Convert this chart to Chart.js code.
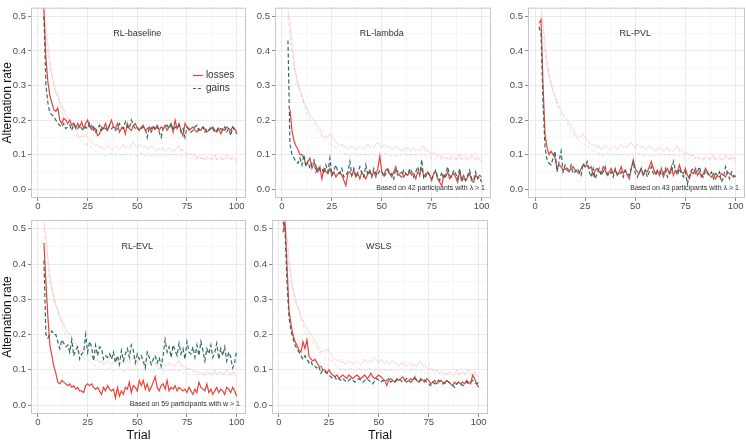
<!DOCTYPE html>
<html>
<head>
<meta charset="utf-8">
<script src="https://cdn.jsdelivr.net/npm/chart.js@4.4.1/dist/chart.umd.min.js"></script>
<style>
  body { margin: 0; background: #fff; }
  #wrap { position: relative; width: 746px; height: 440px; overflow: hidden; background: #fff; }
  #wrap canvas { position: absolute; }
</style>
</head>
<body>
<div id="wrap">
  <canvas id="p1"></canvas>
  <canvas id="p2"></canvas>
  <canvas id="p3"></canvas>
  <canvas id="p4"></canvas>
  <canvas id="p5"></canvas>
</div>
<script>
// ---- data (alternation rate per trial) ----
// faint reference lines (participants), identical in every panel
const humanStart = 3;
const humanLosses = [
  0.52, 0.48, 0.42, 0.37, 0.33, 0.30, 0.28, 0.27, 0.25, 0.24,
  0.23, 0.215, 0.205, 0.20, 0.195, 0.18, 0.175, 0.16, 0.15, 0.155,
  0.15, 0.16, 0.15, 0.145, 0.135, 0.13, 0.125, 0.13, 0.12, 0.125,
  0.115, 0.12, 0.125, 0.12, 0.115, 0.12, 0.125, 0.12, 0.115, 0.12,
  0.13, 0.12, 0.125, 0.12, 0.13, 0.135, 0.125, 0.12, 0.13, 0.125,
  0.12, 0.125, 0.115, 0.12, 0.125, 0.12, 0.115, 0.11, 0.12, 0.115,
  0.12, 0.11, 0.115, 0.12, 0.11, 0.115, 0.11, 0.12, 0.125, 0.11,
  0.115, 0.105, 0.1, 0.105, 0.1, 0.095, 0.1, 0.09, 0.095, 0.09,
  0.09, 0.085, 0.095, 0.09, 0.085, 0.09, 0.1, 0.085, 0.09, 0.095,
  0.085, 0.09, 0.1, 0.09, 0.085, 0.095, 0.085, 0.08
];
const humanGains = [
  0.5, 0.44, 0.39, 0.35, 0.33, 0.31, 0.29, 0.27, 0.25, 0.23,
  0.21, 0.2, 0.195, 0.19, 0.18, 0.17, 0.16, 0.15, 0.145, 0.14,
  0.135, 0.13, 0.13, 0.125, 0.12, 0.115, 0.11, 0.105, 0.1, 0.105,
  0.1, 0.095, 0.1, 0.105, 0.1, 0.095, 0.1, 0.105, 0.1, 0.1,
  0.095, 0.1, 0.105, 0.1, 0.095, 0.1, 0.1, 0.095, 0.1, 0.105,
  0.1, 0.095, 0.1, 0.1, 0.095, 0.1, 0.095, 0.1, 0.105, 0.1,
  0.095, 0.1, 0.095, 0.1, 0.1, 0.095, 0.1, 0.095, 0.1, 0.095,
  0.09, 0.095, 0.09, 0.085, 0.09, 0.09, 0.085, 0.09, 0.085, 0.09,
  0.085, 0.09, 0.085, 0.09, 0.09, 0.085, 0.09, 0.085, 0.09, 0.085,
  0.09, 0.085, 0.09, 0.085, 0.09, 0.085, 0.09, 0.09
];

// RL-baseline
const baselineLossStart = 2;
const baselineLosses = [
  0.6, 0.52, 0.38, 0.31, 0.27, 0.25, 0.23, 0.225, 0.235, 0.2,
  0.19, 0.205, 0.2, 0.19, 0.2, 0.185, 0.19, 0.175, 0.19, 0.18,
  0.195, 0.175, 0.19, 0.2, 0.18, 0.185, 0.17, 0.175, 0.155, 0.16,
  0.18, 0.175, 0.19, 0.17, 0.185, 0.2, 0.18, 0.175, 0.19, 0.165,
  0.175, 0.18, 0.16, 0.19, 0.175, 0.17, 0.185, 0.19, 0.175, 0.17,
  0.18, 0.185, 0.17, 0.175, 0.18, 0.165, 0.18, 0.175, 0.185, 0.17,
  0.18, 0.175, 0.185, 0.17, 0.18, 0.19, 0.165, 0.2, 0.175, 0.19,
  0.17, 0.155, 0.19, 0.18, 0.17, 0.175, 0.18, 0.17, 0.165, 0.175,
  0.17, 0.18, 0.175, 0.165, 0.17, 0.175, 0.18, 0.17, 0.165, 0.175,
  0.16, 0.175, 0.17, 0.18, 0.175, 0.17, 0.18, 0.175, 0.165
];
const baselineGainStart = 3;
const baselineGains = [
  0.5, 0.3, 0.25, 0.22, 0.215, 0.21, 0.2, 0.19, 0.185, 0.18,
  0.19, 0.175, 0.18, 0.185, 0.17, 0.19, 0.18, 0.175, 0.185, 0.175,
  0.17, 0.18, 0.175, 0.19, 0.17, 0.18, 0.165, 0.175, 0.185, 0.17,
  0.18, 0.175, 0.17, 0.185, 0.175, 0.18, 0.17, 0.175, 0.19, 0.18,
  0.175, 0.195, 0.18, 0.175, 0.2, 0.185, 0.175, 0.18, 0.17, 0.175,
  0.18, 0.175, 0.15, 0.18, 0.175, 0.185, 0.17, 0.18, 0.165, 0.15,
  0.175, 0.18, 0.185, 0.175, 0.19, 0.17, 0.18, 0.175, 0.185, 0.165,
  0.175, 0.15, 0.18, 0.175, 0.165, 0.17, 0.18, 0.185, 0.17, 0.175,
  0.18, 0.165, 0.175, 0.17, 0.18, 0.175, 0.165, 0.17, 0.18, 0.175,
  0.17, 0.18, 0.165, 0.175, 0.155, 0.18, 0.17, 0.16
];

// RL-lambda
const lambdaLossStart = 4;
const lambdaLosses = [
  0.23, 0.17, 0.14, 0.125, 0.115, 0.1, 0.1, 0.09, 0.07, 0.08,
  0.09, 0.06, 0.075, 0.07, 0.05, 0.065, 0.03, 0.06, 0.05, 0.045,
  0.06, 0.04, 0.05, 0.035, 0.045, 0.05, 0.04, 0.025, 0.01, 0.045,
  0.05, 0.04, 0.055, 0.035, 0.045, 0.03, 0.05, 0.04, 0.03, 0.045,
  0.055, 0.04, 0.05, 0.035, 0.06, 0.095, 0.05, 0.04, 0.055, 0.06,
  0.045, 0.035, 0.05, 0.065, 0.04, 0.045, 0.05, 0.035, 0.045, 0.04,
  0.05, 0.04, 0.045, 0.03, 0.05, 0.045, 0.06, 0.04, 0.035, 0.05,
  0.04, 0.025, 0.045, 0.05, 0.03, 0.02, 0.01, 0.04, 0.035, 0.05,
  0.03, 0.04, 0.045, 0.035, 0.02, 0.05, 0.03, 0.04, 0.025, 0.035,
  0.045, 0.025, 0.02, 0.04, 0.035, 0.04, 0.035
];
const lambdaGainStart = 3;
const lambdaGains = [
  0.43, 0.13, 0.1, 0.09, 0.08, 0.075, 0.09, 0.07, 0.1, 0.065,
  0.08, 0.06, 0.075, 0.085, 0.05, 0.065, 0.055, 0.06, 0.045, 0.07,
  0.05, 0.09, 0.04, 0.055, 0.07, 0.05, 0.045, 0.06, 0.035, 0.04,
  0.05, 0.08, 0.04, 0.06, 0.035, 0.05, 0.065, 0.045, 0.035, 0.07,
  0.04, 0.05, 0.035, 0.06, 0.045, 0.04, 0.055, 0.05, 0.035, 0.045,
  0.055, 0.04, 0.045, 0.03, 0.06, 0.05, 0.04, 0.035, 0.055, 0.045,
  0.04, 0.06, 0.05, 0.035, 0.05, 0.065, 0.04, 0.085, 0.03, 0.045,
  0.05, 0.04, 0.03, 0.045, 0.055, 0.035, 0.025, 0.05, 0.03, 0.045,
  0.065, 0.04, 0.035, 0.055, 0.045, 0.03, 0.06, 0.02, 0.035, 0.025,
  0.04, 0.055, 0.03, 0.025, 0.05, 0.03, 0.035, 0.02
];

// RL-PVL
const pvlLossStart = 2;
const pvlLosses = [
  0.48, 0.49, 0.3, 0.16, 0.12, 0.1, 0.11, 0.1, 0.09, 0.06,
  0.07, 0.065, 0.055, 0.06, 0.055, 0.05, 0.06, 0.065, 0.055, 0.05,
  0.045, 0.06, 0.07, 0.065, 0.07, 0.06, 0.065, 0.04, 0.055, 0.06,
  0.05, 0.045, 0.065, 0.055, 0.04, 0.05, 0.06, 0.045, 0.055, 0.04,
  0.05, 0.065, 0.045, 0.055, 0.04, 0.03, 0.06, 0.085, 0.06, 0.05,
  0.045, 0.06, 0.04, 0.055, 0.05, 0.065, 0.08, 0.06, 0.045, 0.055,
  0.04, 0.06, 0.035, 0.05, 0.06, 0.045, 0.065, 0.04, 0.055, 0.05,
  0.07, 0.05, 0.045, 0.06, 0.04, 0.03, 0.05, 0.045, 0.06, 0.04,
  0.05, 0.035, 0.045, 0.06, 0.05, 0.04, 0.035, 0.045, 0.03, 0.04,
  0.035, 0.045, 0.04, 0.035, 0.05, 0.045, 0.04, 0.035, 0.04
];
const pvlGainStart = 2;
const pvlGains = [
  0.47, 0.45, 0.25, 0.12, 0.085, 0.075, 0.07, 0.09, 0.11, 0.05,
  0.08, 0.11, 0.05, 0.07, 0.06, 0.055, 0.07, 0.045, 0.05, 0.06,
  0.05, 0.04, 0.075, 0.065, 0.08, 0.05, 0.035, 0.06, 0.03, 0.045,
  0.06, 0.04, 0.05, 0.065, 0.045, 0.04, 0.05, 0.035, 0.06, 0.045,
  0.04, 0.05, 0.035, 0.055, 0.045, 0.04, 0.06, 0.08, 0.045, 0.035,
  0.05, 0.06, 0.04, 0.055, 0.035, 0.05, 0.065, 0.045, 0.04, 0.05,
  0.055, 0.04, 0.045, 0.06, 0.035, 0.05, 0.045, 0.08, 0.055, 0.04,
  0.06, 0.045, 0.035, 0.05, 0.015, 0.04, 0.055, 0.06, 0.045, 0.05,
  0.065, 0.04, 0.035, 0.055, 0.045, 0.04, 0.05, 0.03, 0.045, 0.04,
  0.05, 0.02, 0.035, 0.065, 0.045, 0.03, 0.05, 0.04, 0.035
];

// RL-EVL
const evlLossStart = 3;
const evlLosses = [
  0.46, 0.35, 0.25, 0.17, 0.14, 0.11, 0.09, 0.065, 0.06, 0.07,
  0.065, 0.06, 0.055, 0.06, 0.05, 0.055, 0.045, 0.05, 0.04, 0.04,
  0.035, 0.055, 0.06, 0.055, 0.06, 0.05, 0.045, 0.05, 0.04, 0.03,
  0.05, 0.04, 0.055, 0.045, 0.04, 0.045, 0.02, 0.05, 0.025, 0.04,
  0.03, 0.05, 0.045, 0.065, 0.035, 0.055, 0.05, 0.04, 0.07, 0.055,
  0.07, 0.045, 0.06, 0.04, 0.05, 0.065, 0.08, 0.05, 0.04, 0.055,
  0.06, 0.045, 0.07, 0.04, 0.05, 0.045, 0.055, 0.04, 0.05, 0.045,
  0.04, 0.045, 0.035, 0.05, 0.04, 0.03, 0.045, 0.035, 0.065, 0.05,
  0.045, 0.04, 0.06, 0.035, 0.045, 0.03, 0.04, 0.05, 0.035, 0.045,
  0.04, 0.03, 0.05, 0.045, 0.035, 0.05, 0.04, 0.025
];
const evlGainStart = 3;
const evlGains = [
  0.41, 0.2, 0.19, 0.2, 0.21, 0.2, 0.2, 0.18, 0.16, 0.185,
  0.175, 0.165, 0.17, 0.15, 0.185, 0.14, 0.155, 0.165, 0.13, 0.145,
  0.15, 0.2, 0.15, 0.18, 0.165, 0.125, 0.17, 0.14, 0.165, 0.16,
  0.13, 0.14, 0.135, 0.145, 0.13, 0.15, 0.12, 0.14, 0.115, 0.155,
  0.125, 0.145, 0.16, 0.135, 0.17, 0.155, 0.12, 0.145, 0.13, 0.14,
  0.125, 0.105, 0.15, 0.135, 0.115, 0.13, 0.14, 0.12, 0.135, 0.11,
  0.14, 0.185, 0.15, 0.165, 0.135, 0.17, 0.155, 0.14, 0.175, 0.145,
  0.16, 0.13, 0.18, 0.15, 0.145, 0.165, 0.135, 0.17, 0.14, 0.18,
  0.155, 0.125, 0.16, 0.145, 0.17, 0.135, 0.15, 0.175, 0.13, 0.16,
  0.14, 0.165, 0.125, 0.15, 0.135, 0.105, 0.12, 0.155
];

// WSLS
const wslsLossStart = 2;
const wslsLosses = [
  0.49, 0.52, 0.4, 0.27, 0.23, 0.2, 0.18, 0.17, 0.155, 0.15,
  0.18, 0.16, 0.185, 0.14, 0.13, 0.125, 0.13, 0.12, 0.11, 0.11,
  0.1, 0.1, 0.09, 0.1, 0.09, 0.085, 0.08, 0.085, 0.075, 0.08,
  0.085, 0.08, 0.075, 0.085, 0.08, 0.075, 0.08, 0.085, 0.08, 0.075,
  0.08, 0.085, 0.075, 0.08, 0.09, 0.08, 0.075, 0.08, 0.085, 0.08,
  0.075, 0.07, 0.055, 0.07, 0.075, 0.07, 0.065, 0.075, 0.07, 0.075,
  0.08, 0.07, 0.065, 0.07, 0.075, 0.07, 0.08, 0.07, 0.065, 0.075,
  0.07, 0.065, 0.075, 0.07, 0.06, 0.065, 0.07, 0.06, 0.065, 0.07,
  0.065, 0.06, 0.07, 0.065, 0.06, 0.055, 0.065, 0.06, 0.065, 0.06,
  0.065, 0.06, 0.07, 0.065, 0.06, 0.085, 0.075, 0.06, 0.05
];
const wslsGainStart = 2;
const wslsGains = [
  0.52, 0.5, 0.35, 0.25, 0.21, 0.19, 0.17, 0.16, 0.15, 0.14,
  0.13, 0.14, 0.13, 0.12, 0.125, 0.11, 0.11, 0.105, 0.11, 0.09,
  0.1, 0.095, 0.09, 0.085, 0.08, 0.075, 0.08, 0.07, 0.075, 0.07,
  0.075, 0.07, 0.065, 0.07, 0.075, 0.07, 0.065, 0.07, 0.075, 0.07,
  0.065, 0.07, 0.075, 0.07, 0.065, 0.06, 0.07, 0.075, 0.07, 0.065,
  0.07, 0.065, 0.07, 0.075, 0.065, 0.07, 0.065, 0.07, 0.075, 0.07,
  0.065, 0.07, 0.075, 0.07, 0.065, 0.07, 0.075, 0.07, 0.065, 0.07,
  0.075, 0.07, 0.065, 0.06, 0.055, 0.065, 0.06, 0.065, 0.07, 0.065,
  0.06, 0.065, 0.07, 0.065, 0.06, 0.055, 0.05, 0.06, 0.065, 0.06,
  0.055, 0.06, 0.065, 0.06, 0.065, 0.07, 0.065, 0.06, 0.065
];

const xTicks = [0, 25, 50, 75, 100];
const yTicks = [0.0, 0.1, 0.2, 0.3, 0.4, 0.5];

// ---- styling ----
const FONT = "'Liberation Sans', Arial, Helvetica, sans-serif";
const RED = '#E8433A';
const TEAL = '#2E6B66';
const FAINT_RED = 'rgba(240, 110, 105, 0.28)';
const FAINT_TEAL = 'rgba(150, 120, 125, 0.22)';

Chart.defaults.font.family = FONT;
Chart.defaults.color = '#4D4D4D';

function toPoints(start, values) {
  return values.map((v, i) => ({ x: start + i, y: v }));
}

function isMajorY(v) { return yTicks.some(t => Math.abs(t - v) < 1e-6); }
function isMajorX(v) { return xTicks.some(t => Math.abs(t - v) < 1e-6); }

// panel border, panel title, note and legend drawn on the chart area
const panelDecor = {
  id: 'panelDecor',
  afterDraw(chart, args, opts) {
    const { ctx, chartArea: a, scales: { x, y } } = chart;
    ctx.save();
    ctx.strokeStyle = '#C8C8C8';
    ctx.lineWidth = 1;
    ctx.strokeRect(a.left + 0.5, a.top + 0.5, a.width - 1, a.height - 1);

    ctx.fillStyle = '#333';
    ctx.font = '9px ' + FONT;
    ctx.textAlign = 'center';
    ctx.textBaseline = 'middle';
    ctx.fillText(opts.title, x.getPixelForValue(50), y.getPixelForValue(0.45));

    if (opts.note) {
      ctx.font = '7px ' + FONT;
      ctx.textAlign = 'right';
      ctx.fillText(opts.note, a.right - 6, y.getPixelForValue(0.003));
    }

    if (opts.legend) {
      const x0 = x.getPixelForValue(78), x1 = x.getPixelForValue(83);
      const rows = [['losses', RED, [], 0.33], ['gains', TEAL, [3, 2], 0.293]];
      ctx.font = '10px ' + FONT;
      ctx.textAlign = 'left';
      rows.forEach(([label, color, dash, val]) => {
        const py = Math.round(y.getPixelForValue(val)) + 0.5;
        ctx.strokeStyle = color;
        ctx.lineWidth = 1.2;
        ctx.setLineDash(dash);
        ctx.beginPath(); ctx.moveTo(x0, py); ctx.lineTo(x1, py); ctx.stroke();
        ctx.setLineDash([]);
        ctx.fillStyle = '#333';
        ctx.fillText(label, x1 + 3, py);
      });
    }
    ctx.restore();
  }
};

const panels = [
  { id: 'p1', title: 'RL-baseline', losses: [baselineLossStart, baselineLosses], gains: [baselineGainStart, baselineGains],
    box: [0, 0, 248, 218], yw: 31, xh: 20, padTop: 1, padRight: 2, yTitle: true, xTitle: false, legend: true },
  { id: 'p2', title: 'RL-lambda', losses: [lambdaLossStart, lambdaLosses], gains: [lambdaGainStart, lambdaGains],
    box: [253, 0, 240, 218], yw: 22, xh: 20, padTop: 1, padRight: 2, note: 'Based on 42 participants with \u03bb > 1' },
  { id: 'p3', title: 'RL-PVL', losses: [pvlLossStart, pvlLosses], gains: [pvlGainStart, pvlGains],
    box: [506, 0, 240, 218], yw: 22, xh: 20, padTop: 1, padRight: 1, note: 'Based on 43 participants with \u03bb > 1' },
  { id: 'p4', title: 'RL-EVL', losses: [evlLossStart, evlLosses], gains: [evlGainStart, evlGains],
    box: [0, 212, 248, 228], yw: 31, xh: 26, padTop: 8, padRight: 2, yTitle: true, xTitle: true, note: 'Based on 59 participants with w > 1' },
  { id: 'p5', title: 'WSLS', losses: [wslsLossStart, wslsLosses], gains: [wslsGainStart, wslsGains],
    box: [250, 212, 240, 228], yw: 22, xh: 26, padTop: 8, padRight: 2, xTitle: true }
];

panels.forEach(p => {
  const cv = document.getElementById(p.id);
  const [left, top, w, h] = p.box;
  cv.width = w; cv.height = h;
  cv.style.left = left + 'px'; cv.style.top = top + 'px';
  cv.style.width = w + 'px'; cv.style.height = h + 'px';

  new Chart(cv.getContext('2d'), {
    type: 'line',
    data: {
      datasets: [
        { label: 'gains', data: toPoints(p.gains[0], p.gains[1]), borderColor: TEAL, borderWidth: 1.2, borderDash: [4, 2.5] },
        { label: 'losses', data: toPoints(p.losses[0], p.losses[1]), borderColor: RED, borderWidth: 1.2 },
        { label: 'human losses', data: toPoints(humanStart, humanLosses), borderColor: FAINT_RED, borderWidth: 1 },
        { label: 'human gains', data: toPoints(humanStart, humanGains), borderColor: FAINT_TEAL, borderWidth: 1, borderDash: [4, 2.5] }
      ]
    },
    options: {
      responsive: false,
      animation: false,
      devicePixelRatio: 1,
      events: [],
      layout: { padding: { top: p.padTop, right: p.padRight, left: 0, bottom: 0 } },
      elements: { point: { radius: 0 }, line: { tension: 0, fill: false } },
      plugins: {
        legend: { display: false },
        tooltip: { enabled: false },
        panelDecor: { title: p.title, note: p.note, legend: p.legend }
      },
      scales: {
        x: {
          type: 'linear',
          min: -3.5,
          max: 104.7,
          afterFit: s => { s.height = p.xh; },
          border: { display: false },
          grid: {
            color: c => isMajorX(c.tick.value) ? '#EBEBEB' : '#F6F6F6',
            tickColor: c => isMajorX(c.tick.value) ? '#8A8A8A' : 'rgba(0,0,0,0)',
            tickLength: 3
          },
          ticks: {
            stepSize: 12.5,
            includeBounds: false,
            maxRotation: 0,
            autoSkip: false,
            padding: 0,
            font: { size: 9.5 },
            callback: v => isMajorX(v) ? String(Math.round(v)) : ''
          },
          title: {
            display: !!p.xTitle,
            text: 'Trial',
            color: '#111',
            font: { size: 12.5, lineHeight: 0.75 },
            padding: 0
          }
        },
        y: {
          min: -0.0255,
          max: 0.525,
          afterFit: s => { s.width = p.yw; },
          border: { display: false },
          grid: {
            color: c => isMajorY(c.tick.value) ? '#EBEBEB' : '#F6F6F6',
            tickColor: c => isMajorY(c.tick.value) ? '#8A8A8A' : 'rgba(0,0,0,0)',
            tickLength: 3
          },
          ticks: {
            stepSize: 0.05,
            includeBounds: false,
            autoSkip: false,
            padding: 2,
            font: { size: 9.5 },
            callback: v => isMajorY(v) ? Math.abs(v).toFixed(1) : ''
          },
          title: {
            display: !!p.yTitle,
            text: 'Alternation rate',
            color: '#111',
            font: { size: 12, lineHeight: 1 },
            padding: { top: 1.5, bottom: 0 }
          }
        }
      }
    },
    plugins: [panelDecor]
  });
});
</script>
</body>
</html>
